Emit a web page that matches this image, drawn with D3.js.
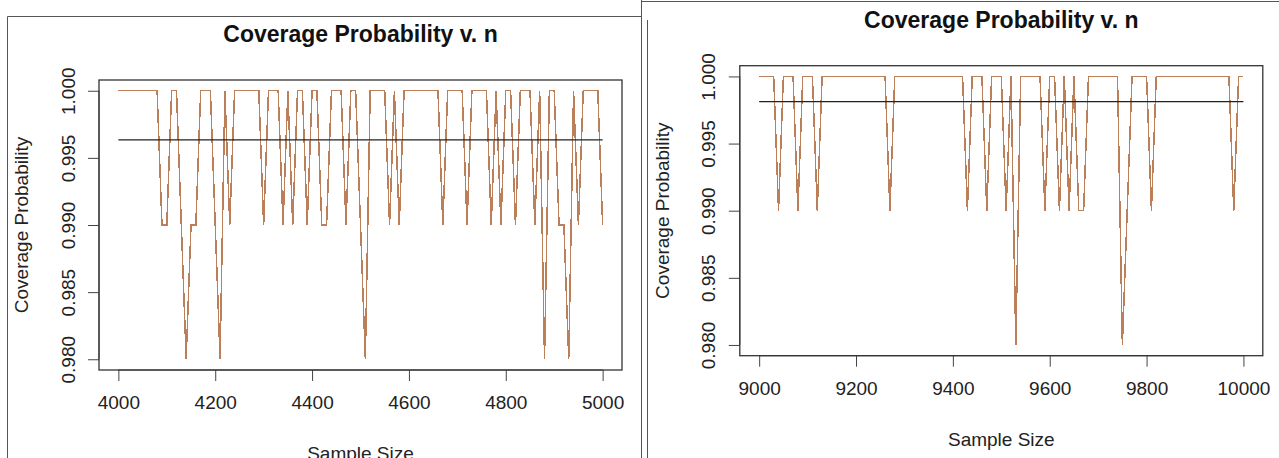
<!DOCTYPE html>
<html>
<head>
<meta charset="utf-8">
<script src="https://cdn.jsdelivr.net/npm/d3@7"></script>
<style>
  body { margin: 0; background: #fff; }
  svg { display: block; font-family: "Liberation Sans", Arial, sans-serif; }
</style>
</head>
<body>
<svg id="chart" width="1279" height="458"></svg>
<script>
// sample sizes and simulated coverage
var sizesLeft = [4000,4010,4020,4030,4040,4050,4060,4070,4080,4090,
  4100,4110,4120,4130,4140,4150,4160,4170,4180,4190,
  4200,4210,4220,4230,4240,4250,4260,4270,4280,4290,
  4300,4310,4320,4330,4340,4350,4360,4370,4380,4390,
  4400,4410,4420,4430,4440,4450,4460,4470,4480,4490,
  4500,4510,4520,4530,4540,4550,4560,4570,4580,4590,
  4600,4610,4620,4630,4640,4650,4660,4670,4680,4690,
  4700,4710,4720,4730,4740,4750,4760,4770,4780,4790,
  4800,4810,4820,4830,4840,4850,4860,4870,4880,4890,
  4900,4910,4920,4930,4940,4950,4960,4970,4980,4990,
  5000];
var coverLeft = [1,1,1,1,1,1,1,1,1,.99,
  .99,1,1,.99,.98,.99,.99,1,1,1,
  .99,.98,1,.99,1,1,1,1,1,1,
  .99,1,1,1,.99,1,.99,1,1,.99,
  1,1,.99,.99,1,1,1,.99,1,1,
  .99,.98,1,1,1,1,.99,1,.99,1,
  1,1,1,1,1,1,1,.99,1,1,
  1,1,.99,1,1,1,1,.99,1,.99,
  1,1,.99,1,1,1,.99,1,.98,1,
  1,.99,.99,.98,1,.99,1,1,1,1,
  .99];

var sizesRight = [9000,9010,9020,9030,9040,9050,9060,9070,9080,9090,
  9100,9110,9120,9130,9140,9150,9160,9170,9180,9190,
  9200,9210,9220,9230,9240,9250,9260,9270,9280,9290,
  9300,9310,9320,9330,9340,9350,9360,9370,9380,9390,
  9400,9410,9420,9430,9440,9450,9460,9470,9480,9490,
  9500,9510,9520,9530,9540,9550,9560,9570,9580,9590,
  9600,9610,9620,9630,9640,9650,9660,9670,9680,9690,
  9700,9710,9720,9730,9740,9750,9760,9770,9780,9790,
  9800,9810,9820,9830,9840,9850,9860,9870,9880,9890,
  9900,9910,9920,9930,9940,9950,9960,9970,9980,9990,
  10000];
var coverRight = [1,1,1,1,.99,1,1,1,.99,1,
  1,1,.99,1,1,1,1,1,1,1,
  1,1,1,1,1,1,1,.99,1,1,
  1,1,1,1,1,1,1,1,1,1,
  1,1,1,.99,1,1,1,.99,1,1,
  1,.99,1,.98,1,1,1,1,1,.99,
  1,1,.99,1,.99,1,.99,.99,1,1,
  1,1,1,1,1,.98,.99,1,1,1,
  1,.99,1,1,1,1,1,1,1,1,
  1,1,1,1,1,1,1,1,.99,1,
  1];

var xTicksLeft = [4000, 4200, 4400, 4600, 4800, 5000];
var xTicksRight = [9000, 9200, 9400, 9600, 9800, 10000];
var yTicks = [0.980, 0.985, 0.990, 0.995, 1.000];

var titleText = "Coverage Probability v. n";
var xLabel = "Sample Size";
var yLabel = "Coverage Probability";

var svg = d3.select("#chart");

// screenshot frames
svg.append("path")
    .attr("d", "M7.5,458V16.5H641.5M641.5,0V458")
    .attr("fill", "none")
    .attr("stroke", "#555");
svg.append("path")
    .attr("d", "M641,1.5H1279M647.5,458V20")
    .attr("fill", "none")
    .attr("stroke", "#555");

function drawPanel(ox, oy, sizes, cover, xTicks) {
  var box = {left: 99, top: 80, width: 523, height: 290};

  var g = svg.append("g")
      .attr("transform", "translate(" + ox + "," + oy + ")");

  // R pads the data range by 4% on each side
  var xr = d3.extent(sizes), xpad = (xr[1] - xr[0]) * 0.04;
  var x = d3.scaleLinear()
      .domain([xr[0] - xpad, xr[1] + xpad])
      .range([box.left, box.left + box.width]);
  var y = d3.scaleLinear()
      .domain([0.98 - 0.0008, 1 + 0.0008])
      .range([box.top + box.height, box.top]);

  g.append("text")
      .attr("x", box.left + box.width / 2)
      .attr("y", 42)
      .attr("text-anchor", "middle")
      .style("font-size", "23px")
      .style("font-weight", "bold")
      .attr("fill", "#111")
      .text(titleText);

  var line = d3.line()
      .x(function(d) { return x(d[0]); })
      .y(function(d) { return y(d[1]); });

  // aliased steep segments give the stepped look of the R device
  g.append("path")
      .datum(d3.zip(sizes, cover))
      .attr("fill", "none")
      .attr("stroke", "#bb8059")
      .attr("stroke-width", 1.5)
      .attr("shape-rendering", "crispEdges")
      .attr("d", line);

  // mean coverage
  var m = d3.mean(cover);
  g.append("line")
      .attr("x1", x(xr[0])).attr("x2", x(xr[1]))
      .attr("y1", y(m)).attr("y2", y(m))
      .attr("stroke", "#222")
      .attr("stroke-width", 1.2);

  var xAxis = g.append("g")
      .attr("transform", "translate(0," + (box.top + box.height) + ")")
      .call(d3.axisBottom(x).tickValues(xTicks).tickSize(11).tickSizeOuter(0).tickPadding(15)
        .tickFormat(d3.format("d")));
  xAxis.select(".domain").attr("d", "M" + x(xTicks[0]) + ",0H" + x(xTicks[xTicks.length - 1]));
  xAxis.selectAll("text").style("font-size", "19px").attr("fill", "#222");
  xAxis.selectAll("line, path").attr("stroke", "#444");

  var yAxis = g.append("g")
      .attr("transform", "translate(" + box.left + ",0)")
      .call(d3.axisLeft(y).tickValues(yTicks).tickSize(11).tickSizeOuter(0)
        .tickFormat(d3.format(".3f")));
  yAxis.select(".domain").attr("d", "M0," + y(yTicks[0]) + "V" + y(yTicks[yTicks.length - 1]));
  yAxis.selectAll("text")
      .attr("transform", "rotate(-90)")
      .attr("x", 0)
      .attr("y", -24.5)
      .attr("dy", 0)
      .attr("text-anchor", "middle")
      .style("font-size", "19px")
      .attr("fill", "#222");
  yAxis.selectAll("line, path").attr("stroke", "#444");

  g.append("rect")
      .attr("x", box.left).attr("y", box.top)
      .attr("width", box.width).attr("height", box.height)
      .attr("fill", "none")
      .attr("stroke", "#333")
      .attr("stroke-width", 1.3);

  g.append("text")
      .attr("x", box.left + box.width / 2)
      .attr("y", 460)
      .attr("text-anchor", "middle")
      .style("font-size", "19px")
      .attr("fill", "#222")
      .text(xLabel);

  g.append("text")
      .attr("transform", "translate(28," + (box.top + box.height / 2) + ") rotate(-90)")
      .attr("text-anchor", "middle")
      .style("font-size", "19px")
      .attr("fill", "#222")
      .text(yLabel);
}

drawPanel(0, 0, sizesLeft, coverLeft, xTicksLeft);
drawPanel(640.8, -14.3, sizesRight, coverRight, xTicksRight);
</script>
</body>
</html>
